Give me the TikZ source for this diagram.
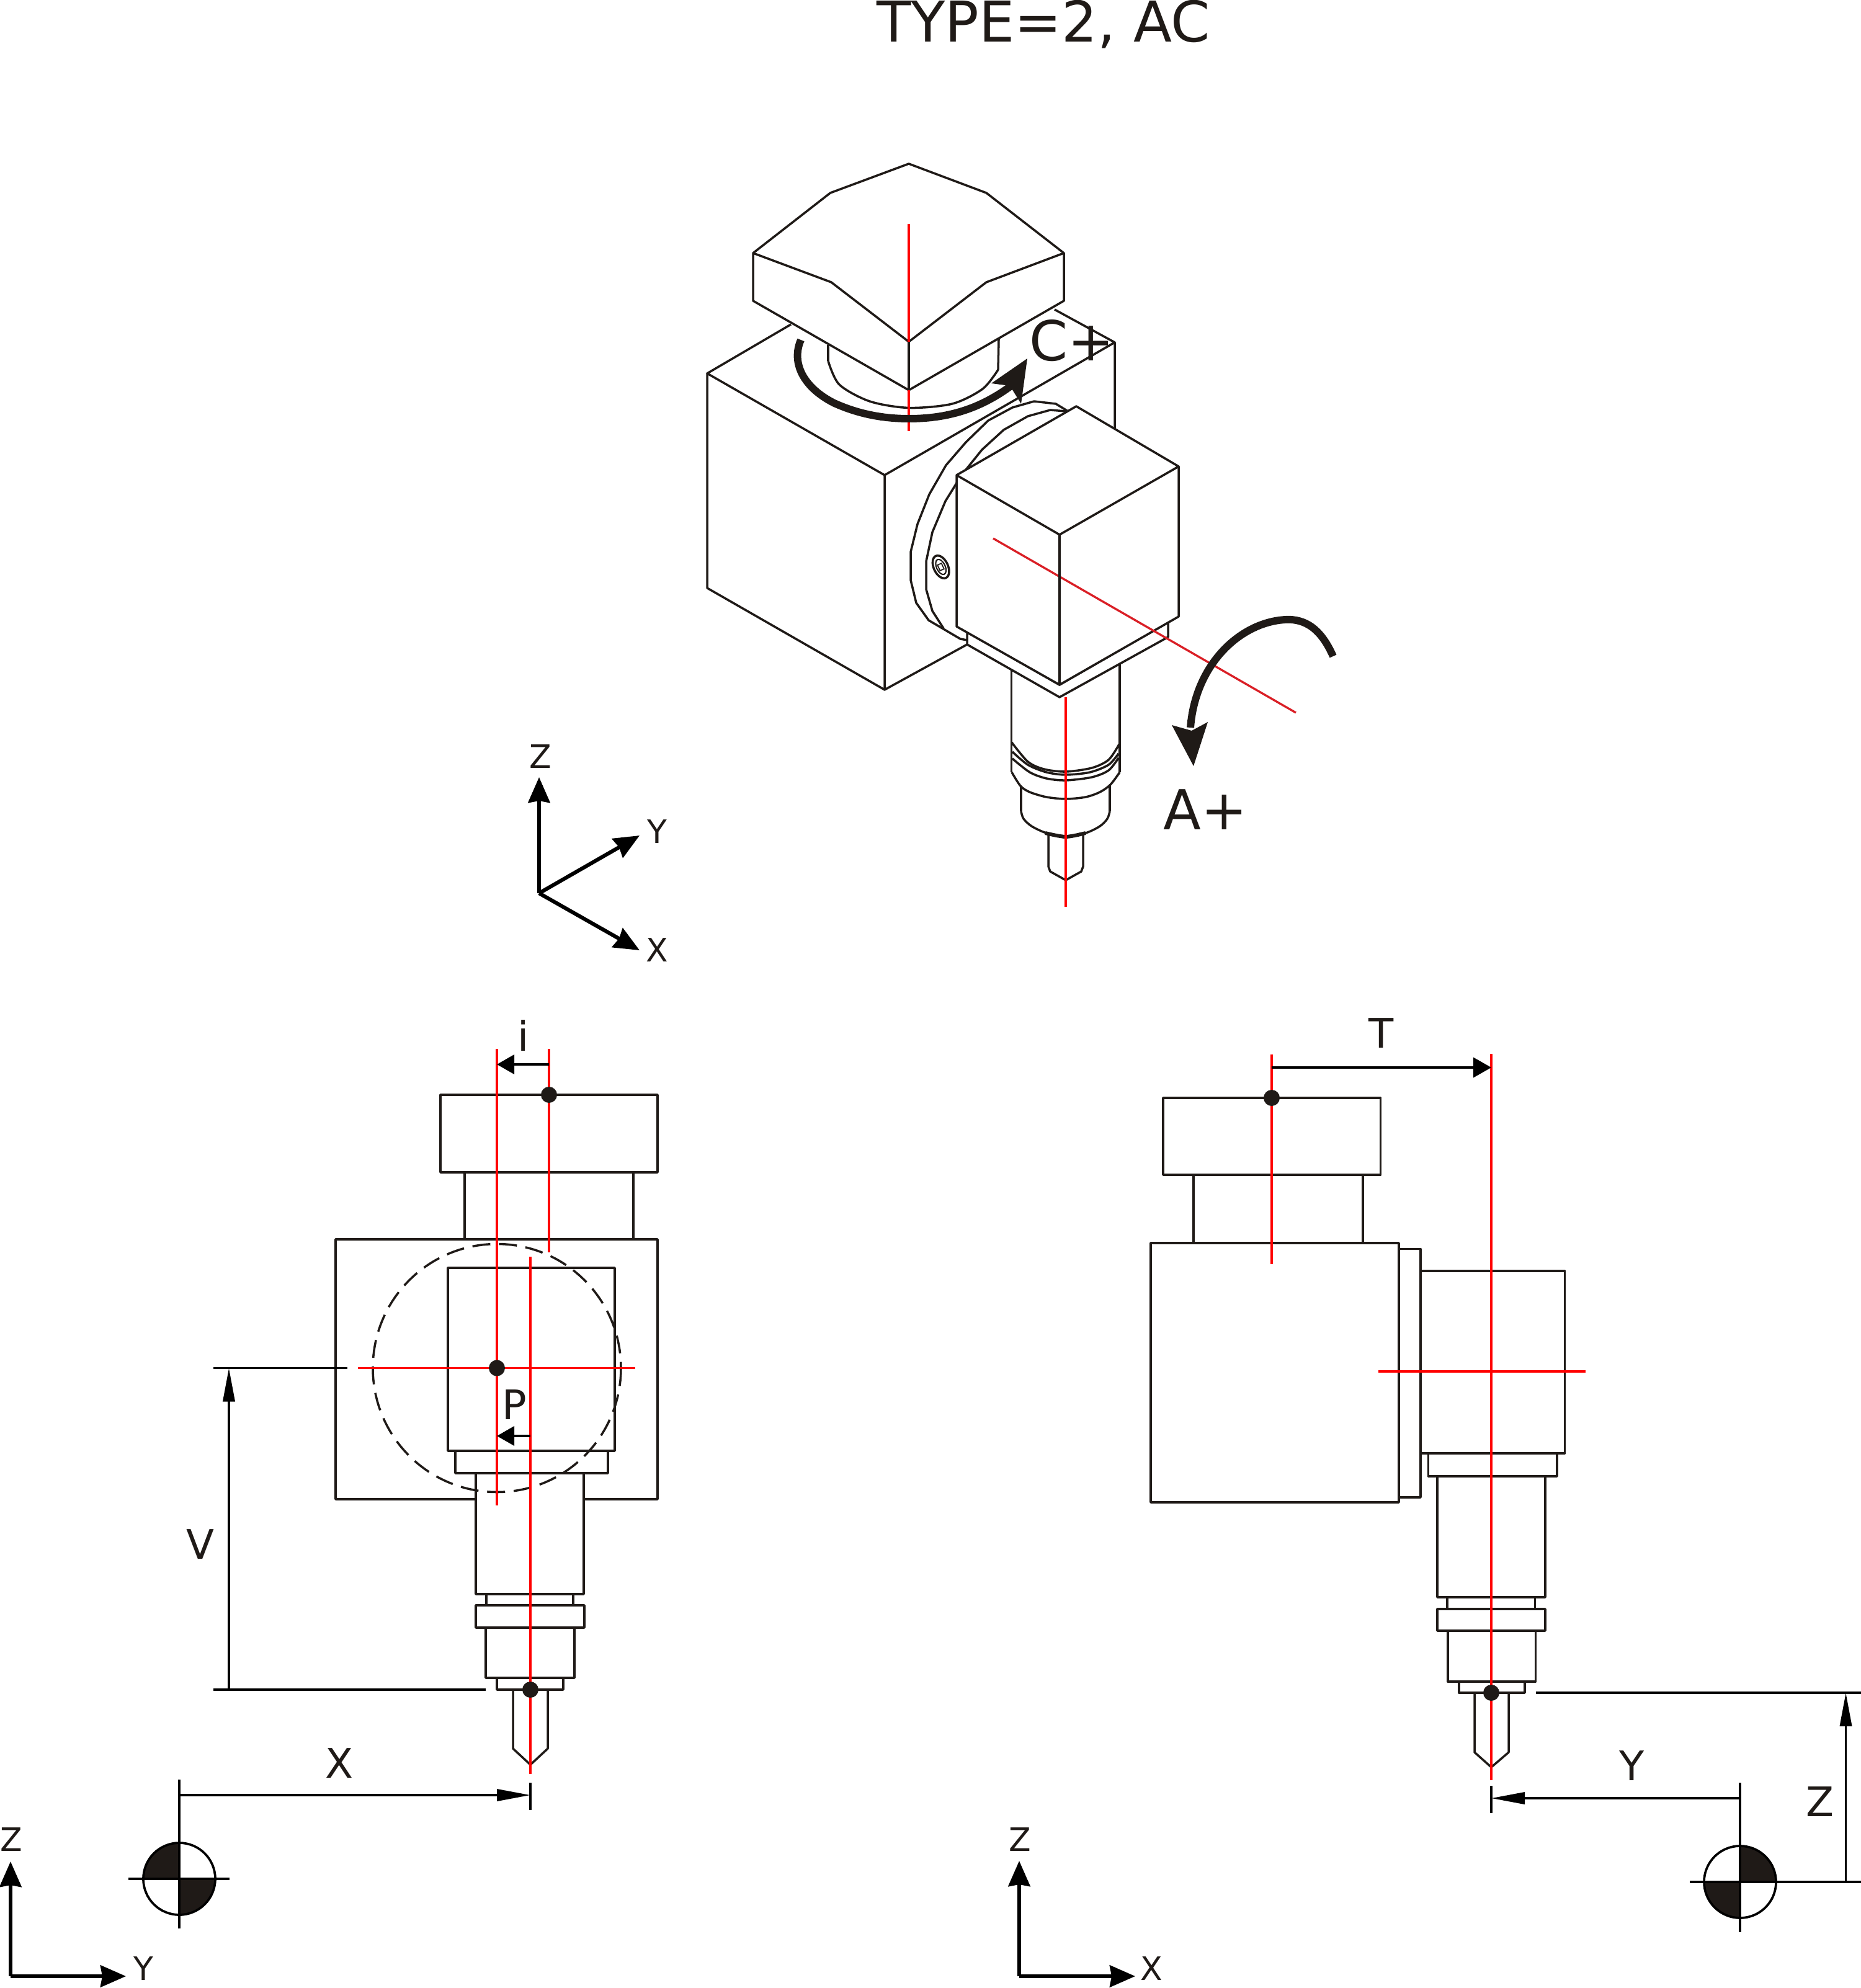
\documentclass[tikz,border=0pt]{standalone}
\usepackage{fontspec}
\setmainfont{DejaVu Sans}
\usetikzlibrary{calc,arrows.meta}
\definecolor{ink}{HTML}{1F1A17}
\definecolor{axisred}{HTML}{FF0000}
\definecolor{axisdark}{HTML}{DA1F26}

\begin{document}
\begin{tikzpicture}[x=1cm,y=-1cm,
    cadline/.style={draw=ink,line width=1pt,line join=round},
    axisline/.style={draw=axisred,line width=1pt},
    dimline/.style={draw=black,line width=1.05pt},
    triadline/.style={draw=black,line width=1.75pt},
    turnline/.style={draw=ink,line width=3.4pt},
    dimtip/.tip={Triangle[length=0.54cm,width=0.19cm]},
    smalltip/.tip={Triangle[length=0.28cm,width=0.31cm]},
    triadtip/.tip={Stealth[length=0.41cm,width=0.35cm,inset=0.03cm]},
    biglabel/.style={font=\fontsize{25.3}{30}\selectfont,text=ink,inner sep=0pt,anchor=base},
    dimlabel/.style={font=\fontsize{18.7}{22}\selectfont,text=ink,inner sep=0pt},
    triadlabel/.style={font=\fontsize{14.8}{18}\selectfont,text=ink,inner sep=0pt}]

  \useasboundingbox (0,0) rectangle (30,32.05);

  % --- Title ---
  \node[biglabel,font=\fontsize{25.8}{30}\selectfont] (title) at (16.82,0.68) {TYPE=2, AC};

  % --- Isometric view: base block ---
  \coordinate (BL) at (11.40,6.02);
  \coordinate (BF) at (14.26,7.66);
  \coordinate (BR) at (17.97,5.52);
  \draw[cadline] (BF) -- (BL) -- (12.75,5.23);
  \draw[cadline] (17.00,4.99) -- (BR) -- (17.97,6.91);
  \draw[cadline] (BF) -- (BR);
  \draw[cadline] (BL) -- (11.40,9.48) -- (14.26,11.12) -- (BF);
  \draw[cadline] (14.26,11.12) -- (15.59,10.39);

  % --- Isometric view: neck under the cap ---
  \draw[cadline] (13.35,5.56) -- (13.35,5.82);
  \draw[cadline] (16.09,5.96) -- (16.10,5.47);
  \draw[cadline] plot[smooth] coordinates {(13.35,5.82) (13.53,6.20) (14.02,6.47) (14.65,6.575)
    (15.35,6.51) (15.84,6.27) (16.09,5.96)};

  % --- Isometric view: flange ring ---
  \draw[cadline] (17.20,6.62) -- (17.02,6.51) -- (16.67,6.47) -- (16.32,6.57) -- (15.93,6.78)
    -- (15.57,7.13) -- (15.25,7.50) -- (14.98,7.97) -- (14.79,8.45) -- (14.68,8.90)
    -- (14.68,9.35) -- (14.77,9.72) -- (14.97,10.00) -- (15.48,10.30) -- (15.59,10.32);
  \draw[cadline] (17.18,6.63) -- (16.93,6.61) -- (16.57,6.71) -- (16.18,6.93) -- (15.83,7.25)
    -- (15.50,7.66) -- (15.24,8.08) -- (15.03,8.58) -- (14.93,9.05) -- (14.93,9.50)
    -- (15.03,9.85) -- (15.21,10.13);

  % --- Screw on the ring ---
  \draw[cadline,rotate around={25:(15.167,9.14)}] (15.167,9.14) ellipse (0.115 and 0.195);
  \draw[cadline,line width=0.6pt,rotate around={25:(15.167,9.14)}] (15.167,9.14) ellipse (0.07 and 0.13);
  \fill[white,draw=ink,line width=0.5pt,rotate around={25:(15.167,9.14)}] (15.13,9.09) rectangle (15.20,9.19);

  % --- Isometric view: spindle and tool ---
  \draw[cadline] (16.307,10.80) -- (16.307,12.45);
  \draw[cadline] (18.05,10.66) -- (18.05,12.45);
  \draw[cadline] plot[smooth] coordinates {(16.31,11.97) (16.57,12.28) (16.83,12.40) (17.18,12.44) (17.60,12.38) (17.87,12.25) (18.04,12.00)};
  \draw[cadline] plot[smooth] coordinates {(16.32,12.12) (16.57,12.33) (16.87,12.45) (17.18,12.49) (17.57,12.45) (17.87,12.33) (18.03,12.15)};
  \draw[cadline] plot[smooth] coordinates {(16.32,12.23) (16.60,12.45) (16.87,12.55) (17.18,12.58) (17.60,12.53) (17.87,12.42) (18.03,12.22)};
  \draw[cadline] plot[smooth] coordinates {(16.31,12.45) (16.45,12.67) (16.60,12.77) (16.87,12.85) (17.18,12.88) (17.50,12.85) (17.73,12.77) (17.90,12.65) (18.05,12.45)};
  \draw[cadline] (16.46,12.67) -- (16.46,13.08);
  \draw[cadline] (17.89,12.65) -- (17.89,13.08);
  \draw[cadline] plot[smooth] coordinates {(16.46,13.08) (16.50,13.20) (16.63,13.32) (16.87,13.43) (17.18,13.48) (17.50,13.43) (17.73,13.32) (17.85,13.20) (17.89,13.08)};
  \draw[cadline,line width=1.7pt] plot[smooth] coordinates {(16.85,13.43) (17.18,13.49) (17.50,13.43)};
  \draw[cadline] (16.90,13.47) -- (16.90,13.97) -- (16.93,14.05) -- (17.18,14.19) -- (17.43,14.05) -- (17.46,13.97) -- (17.46,13.47);

  % --- Isometric view: head (covers ring) ---
  \draw[cadline,fill=white] (15.59,10.19) -- (15.59,10.39) -- (17.08,11.24) -- (18.83,10.27) -- (18.83,10.03) -- (17.08,11.04) -- cycle;
  \draw[cadline,fill=white] (15.42,7.66) -- (17.35,6.55) -- (19.00,7.52) -- (19.00,9.94)
    -- (17.08,11.04) -- (15.42,10.10) -- cycle;
  \draw[cadline] (15.42,7.66) -- (17.08,8.62) -- (19.00,7.52);

  % --- Isometric view: cap ---
  \draw[cadline,fill=white] (12.14,4.08) -- (13.385,3.11) -- (14.65,2.64) -- (15.90,3.11) -- (17.15,4.08)
    -- (17.15,4.85) -- (14.65,6.29) -- (12.14,4.85) -- cycle;
  \draw[cadline] (12.14,4.08) -- (13.40,4.55) -- (14.65,5.51) -- (15.90,4.55) -- (17.15,4.08);
  \draw[cadline] (14.65,5.51) -- (14.65,6.29);

  % --- Isometric view: axes ---
  \draw[axisline] (14.65,3.61) -- (14.65,5.51);
  \draw[axisline] (14.65,6.29) -- (14.65,6.95);
  \draw[axisline] (17.18,11.24) -- (17.18,14.62);
  \draw[draw=axisdark,line width=0.95pt] (16.01,8.68) -- (20.89,11.49);
  \draw[cadline] (17.08,8.62) -- (17.08,11.04);

  % --- Rotation arrows ---
  \draw[turnline] (12.91,5.48) .. controls (12.75,5.85) and (12.95,6.25) .. (13.45,6.50)
    .. controls (13.85,6.68) and (14.25,6.75) .. (14.65,6.75)
    .. controls (15.35,6.75) and (15.85,6.55) .. (16.30,6.22);
  \fill[ink] (16.56,5.78) -- (15.98,6.18) -- (16.28,6.22) -- (16.46,6.51) -- cycle;
  \node[biglabel] (labelC) at (17.28,5.82) {C+};
  \draw[turnline] (21.49,10.58) .. controls (21.30,10.15) and (21.05,9.97) .. (20.72,9.99)
    .. controls (20.00,10.03) and (19.27,10.70) .. (19.19,11.73);
  \fill[ink] (19.24,12.35) -- (18.89,11.69) -- (19.21,11.78) -- (19.47,11.64) -- cycle;
  \node[biglabel] (labelA) at (19.43,13.37) {A+};

  % --- Isometric triad ---
  \coordinate (isoO) at (8.69,14.40);
  \coordinate (isoZ) at (8.69,12.53);
  \coordinate (isoY) at (10.31,13.47);
  \coordinate (isoX) at (10.31,15.32);
  \draw[triadline,-{triadtip}] (isoO) -- (isoZ);
  \draw[triadline,-{triadtip}] (isoO) -- (isoY);
  \draw[triadline,-{triadtip}] (isoO) -- (isoX);
  \node[triadlabel] (isoZlabel) at (8.71,12.20) {Z};
  \node[triadlabel] (isoYlabel) at (10.59,13.41) {Y};
  \node[triadlabel] (isoXlabel) at (10.59,15.32) {X};

  % --- Left view: outline ---
  \draw[cadline] (7.10,17.65) rectangle (10.60,18.90);
  \draw[cadline] (7.49,18.90) -- (7.49,19.98);
  \draw[cadline] (10.21,18.90) -- (10.21,19.98);
  \draw[cadline] (5.41,19.98) rectangle (10.60,24.17);
  \draw[cadline] (7.22,20.44) rectangle (9.91,23.39);
  \draw[cadline] (7.34,23.39) rectangle (9.80,23.75);
  \draw[cadline,fill=white] (7.67,23.75) rectangle (9.41,25.70);
  \draw[cadline] (7.84,25.70) -- (7.84,25.88);
  \draw[cadline] (9.24,25.70) -- (9.24,25.88);
  \draw[cadline] (7.67,25.88) rectangle (9.42,26.24);
  \draw[cadline] (7.83,26.24) rectangle (9.26,27.05);
  \draw[cadline] (8.01,27.05) rectangle (9.08,27.24);
  \draw[cadline] (8.27,27.24) -- (8.27,28.19) -- (8.55,28.45) -- (8.83,28.19) -- (8.83,27.24);
  \draw[cadline,dash pattern=on 0.29cm off 0.14cm] (8.01,22.055) circle (2.00);

  % --- Left view: axes ---
  \coordinate (Lp) at (8.01,22.055);
  \coordinate (Lcap) at (8.85,17.65);
  \coordinate (Ltip) at (8.55,27.24);
  \draw[axisline] (8.01,16.91) -- (8.01,24.27);
  \draw[axisline] (8.85,16.91) -- (8.85,20.19);
  \draw[axisline] (8.55,20.26) -- (8.55,28.60);
  \draw[axisline] (5.77,22.055) -- (10.235,22.055);
  \foreach \p in {Lp,Lcap,Ltip} \fill[ink] (\p) circle (0.13);

  % --- Left view: dimensions ---
  \coordinate (ia) at (8.85,17.16);
  \coordinate (ib) at (8.01,17.16);
  \draw[dimline,-{smalltip}] (ia) -- (ib);
  \node[dimlabel] (labeli) at (8.44,16.70) {i};
  \coordinate (Pa) at (8.55,23.15);
  \coordinate (Pb) at (8.01,23.15);
  \draw[dimline,-{smalltip}] (Pa) -- (Pb);
  \node[dimlabel] (labelP) at (8.29,22.65) {P};
  \draw[dimline] (3.44,22.055) -- (5.60,22.055);
  \draw[dimline] (3.44,27.24) -- (7.83,27.24);
  \coordinate (Va) at (3.69,27.24);
  \coordinate (Vb) at (3.69,22.055);
  \draw[dimline,-{dimtip}] (Va) -- (Vb);
  \node[dimlabel] (labelV) at (3.23,24.90) {V};
  \coordinate (Xa) at (2.89,28.94);
  \coordinate (Xb) at (8.55,28.94);
  \draw[dimline,-{dimtip}] (Xa) -- (Xb);
  \draw[dimline] (8.55,28.74) -- (8.55,29.18);
  \node[dimlabel] (labelX) at (5.47,28.43) {X};

  % --- Left view: origin mark ---
  \coordinate (Lorg) at (2.89,30.29);
  \fill[ink] (Lorg) -- ++(-0.58,0) arc (180:270:0.58) -- cycle;
  \fill[ink] (Lorg) -- ++(0.58,0) arc (0:90:0.58) -- cycle;
  \draw[dimline] (Lorg) circle (0.58);
  \draw[dimline] (2.07,30.29) -- (3.70,30.29);
  \draw[dimline] (2.89,28.69) -- (2.89,31.09);

  % --- Left triad ---
  \coordinate (LtO) at (0.17,31.86);
  \coordinate (LtZ) at (0.17,30.01);
  \coordinate (LtY) at (2.03,31.86);
  \draw[triadline,-{triadtip}] (LtO) -- (LtZ);
  \draw[triadline,-{triadtip}] (LtO) -- (LtY);
  \node[triadlabel] (LtZlabel) at (0.18,29.66) {Z};
  \node[triadlabel] (LtYlabel) at (2.31,31.74) {Y};

  % --- Right view: outline ---
  \draw[cadline] (18.75,17.70) rectangle (22.255,18.94);
  \draw[cadline] (19.24,18.94) -- (19.24,20.04);
  \draw[cadline] (21.97,18.94) -- (21.97,20.04);
  \draw[cadline] (18.55,20.04) rectangle (22.55,24.22);
  \draw[cadline] (22.55,20.135) -- (22.90,20.135) -- (22.90,24.14) -- (22.55,24.14);
  \draw[cadline] (22.90,20.49) rectangle (25.225,23.43);
  \draw[cadline] (23.025,23.43) rectangle (25.10,23.80);
  \draw[cadline] (23.17,23.80) rectangle (24.91,25.75);
  \draw[cadline] (23.33,25.75) -- (23.33,25.94);
  \draw[cadline] (24.745,25.75) -- (24.745,25.94);
  \draw[cadline] (23.17,25.94) rectangle (24.91,26.29);
  \draw[cadline] (23.34,26.29) rectangle (24.755,27.11);
  \draw[cadline] (23.52,27.11) rectangle (24.58,27.29);
  \draw[cadline] (23.77,27.29) -- (23.77,28.25) -- (24.04,28.49) -- (24.32,28.25) -- (24.32,27.29);

  % --- Right view: axes ---
  \coordinate (Rcap) at (20.50,17.70);
  \coordinate (Rtip) at (24.04,27.29);
  \draw[axisline] (20.50,17.00) -- (20.50,20.38);
  \draw[axisline] (24.04,16.99) -- (24.04,28.70);
  \draw[axisline] (22.22,22.11) -- (25.56,22.11);
  \foreach \p in {Rcap,Rtip} \fill[ink] (\p) circle (0.13);

  % --- Right view: dimensions ---
  \coordinate (Ta) at (20.50,17.21);
  \coordinate (Tb) at (24.04,17.21);
  \draw[dimline,-{Triangle[length=0.29cm,width=0.32cm]}] (Ta) -- (Tb);
  \node[dimlabel] (labelT) at (22.265,16.66) {T};
  \coordinate (Ya) at (28.05,28.99);
  \coordinate (Yb) at (24.04,28.99);
  \draw[dimline,-{dimtip}] (Ya) -- (Yb);
  \draw[dimline] (24.04,28.79) -- (24.04,29.23);
  \node[dimlabel] (labelY) at (26.31,28.47) {Y};
  \draw[dimline] (24.755,27.29) -- (30,27.29);
  \coordinate (Za) at (29.755,30.34);
  \coordinate (Zb) at (29.755,27.29);
  \draw[dimline,-{dimtip}] (Za) -- (Zb);
  \node[dimlabel] (labelZ) at (29.34,29.05) {Z};

  % --- Right view: origin mark ---
  \coordinate (Rorg) at (28.05,30.34);
  \fill[ink] (Rorg) -- ++(0,-0.58) arc (270:360:0.58) -- cycle;
  \fill[ink] (Rorg) -- ++(0,0.58) arc (90:180:0.58) -- cycle;
  \draw[dimline] (Rorg) circle (0.58);
  \draw[dimline] (27.24,30.34) -- (30,30.34);
  \draw[dimline] (28.05,28.74) -- (28.05,31.15);

  % --- Right triad ---
  \coordinate (RtO) at (16.43,31.86);
  \coordinate (RtZ) at (16.43,30.00);
  \coordinate (RtX) at (18.30,31.86);
  \draw[triadline,-{triadtip}] (RtO) -- (RtZ);
  \draw[triadline,-{triadtip}] (RtO) -- (RtX);
  \node[triadlabel] (RtZlabel) at (16.44,29.66) {Z};
  \node[triadlabel] (RtXlabel) at (18.56,31.74) {X};

\end{tikzpicture}
\end{document}
